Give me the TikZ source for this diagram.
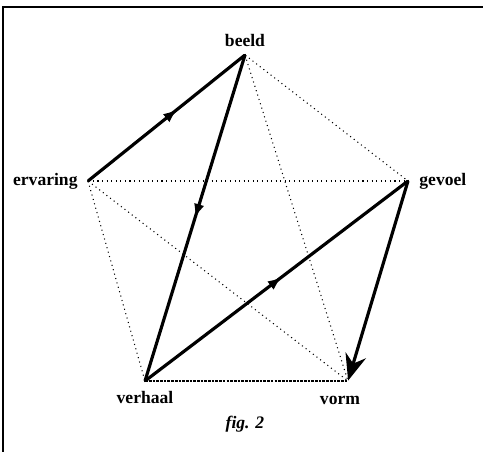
\documentclass[tikz,border=0pt]{standalone}
\usepackage{fontspec}
\setmainfont{Liberation Serif}
\usetikzlibrary{arrows.meta,decorations.markings,positioning}

\tikzset{
    hoek/.style={inner sep=0pt, minimum size=0pt},
    woord/.style={font=\bfseries, inner sep=1pt},
    pad/.style={line width=1.8pt, line cap=round, line join=round},
    lijn/.style={line width=0.6pt, dotted},
    midpijl/.style={postaction={decorate}, decoration={markings,
        mark=at position #1 with {\arrow{Latex[length=8pt,width=6pt]}}}}
}

\begin{document}
\begin{tikzpicture}[node distance=0.12cm]
        \useasboundingbox (0,0) rectangle (9.66,9.04);
        % frame (only left and top edge show)
        \draw[line width=0.6pt] (0.06,0) -- (0.06,8.9) -- (9.66,8.9);

        % corners of the pentagon
        \node[hoek] (beeld) at (4.90,7.94) {};
        \node[hoek] (ervaring) at (1.76,5.42) {};
        \node[hoek] (gevoel) at (8.16,5.42) {};
        \node[hoek] (verhaal) at (2.90,1.42) {};
        \node[hoek] (vorm) at (6.96,1.42) {};

        % labels
        \node[woord, above=of beeld] (tbeeld) {beeld};
        \node[woord, left=0.16cm of ervaring] (tervaring) {ervaring};
        \node[woord, right=0.18cm of gevoel] (tgevoel) {gevoel};
        \node[woord, below=0.16cm of verhaal] (tverhaal) {verhaal};
        \node[woord, below=0.26cm of vorm, xshift=-0.16cm] (tvorm) {vorm};
        \node[font=\bfseries\itshape] (fig) at (4.90,0.56) {fig. 2};

        % dotted connections
        \draw[lijn] (beeld) -- (gevoel);
        \draw[lijn] (ervaring) -- (gevoel);
        \draw[lijn] (ervaring) -- (verhaal);
        \draw[lijn] (ervaring) -- (vorm);
        \draw[lijn] (beeld) -- (vorm);
        \draw[line width=0.6pt, dash pattern=on 1.5pt off 0.6pt] (verhaal) -- (vorm);

        % thick path
        \draw[pad, midpijl=0.57] (ervaring) -- (beeld);
        \draw[pad, midpijl=0.5] (beeld) -- (verhaal);
        \draw[pad, midpijl=0.52] (verhaal) -- (gevoel);
        \draw[pad, -{Stealth[length=15pt,width=12pt]}] (gevoel) -- (vorm);
    \end{tikzpicture}
\end{document}
